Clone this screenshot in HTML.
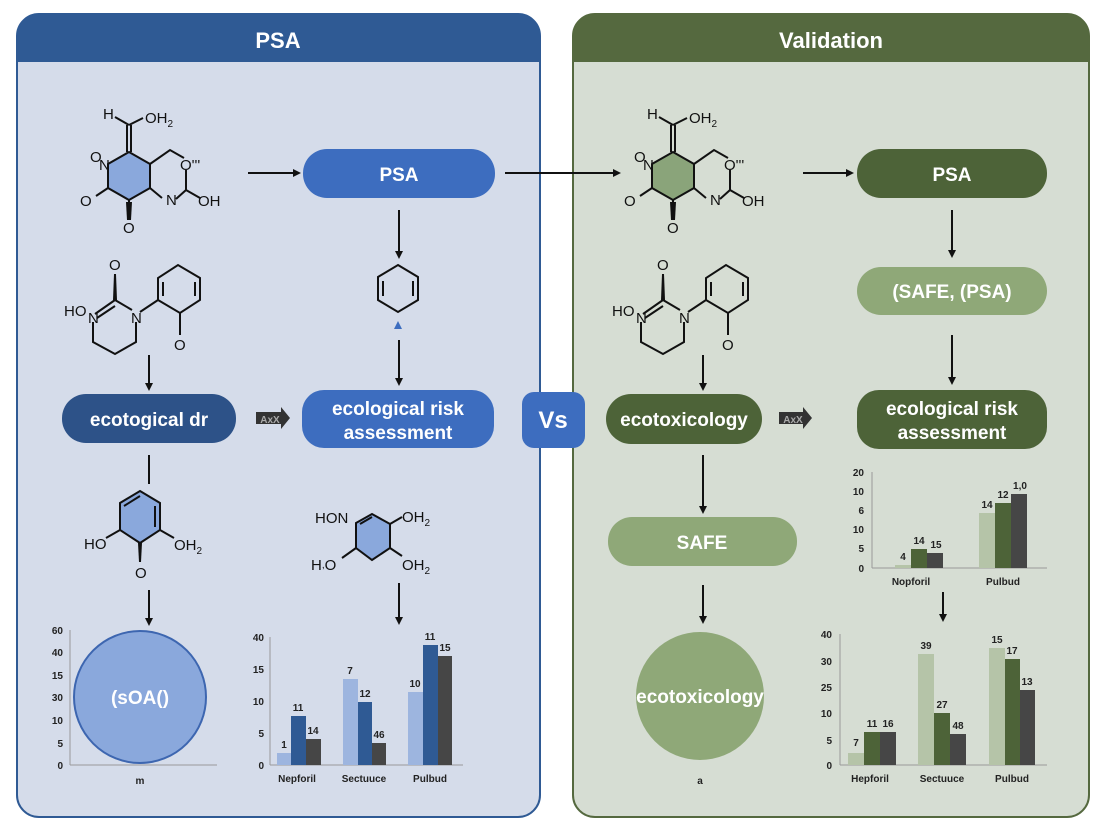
<!DOCTYPE html>
<html><head><meta charset="utf-8"><style>
html,body{margin:0;padding:0;background:#fff;}
svg{display:block;font-family:"Liberation Sans",sans-serif;}
.t{font-weight:bold;fill:#fff;text-anchor:middle;}
.m{font-size:15px;fill:#111;}
.ax{font-size:10px;font-weight:bold;fill:#222;text-anchor:end;}
.cl{font-size:10px;font-weight:bold;fill:#222;text-anchor:middle;}
.b{stroke:#111;stroke-width:2;fill:none;}
</style></head><body>
<svg width="1104" height="832" viewBox="0 0 1104 832">
<defs>
<marker id="ah" markerWidth="8" markerHeight="8" refX="6" refY="4" orient="auto" markerUnits="userSpaceOnUse"><path d="M0,0 L8,4 L0,8z" fill="#111"/></marker>
</defs>
<!-- Left panel -->
<rect x="17" y="14" width="523" height="803" rx="22" fill="#d5dcea" stroke="#2f5a94" stroke-width="2"/>
<path d="M17,62 V36 a22,22 0 0 1 22,-22 H518 a22,22 0 0 1 22,22 V62 z" fill="#2f5a94"/>
<text x="278" y="48" class="t" font-size="22">PSA</text>
<!-- Right panel -->
<rect x="573" y="14" width="516" height="803" rx="22" fill="#d6ddd3" stroke="#55693f" stroke-width="2"/>
<path d="M573,62 V36 a22,22 0 0 1 22,-22 H1067 a22,22 0 0 1 22,22 V62 z" fill="#55693f"/>
<text x="831" y="48" class="t" font-size="22">Validation</text>

<!-- Molecule 1 (left) -->
<g id="mol1">
<polygon points="129,152 150,164 150,188 129,200 108,188 108,164" fill="#8aa8dc" stroke="#111" stroke-width="2"/>
<path class="b" d="M127,152 V125 M131,152 V125 M129,125 L115,117 M129,125 L143,118 M150,164 L170,150 L184,158 M186,170 V190 L176,199 M150,188 L162,198 M186,190 L200,198 M129,200 V218"/>
<path d="M126,202 L132,202 L131,220 L127,220z" fill="#111"/>
<path class="b" d="M108,188 L96,196"/>
<text x="103" y="119" class="m">H</text><text x="145" y="123" class="m">OH<tspan font-size="10" dy="4">2</tspan></text>
<text x="90" y="162" class="m" font-size="14">O</text><text x="99" y="170" class="m">N</text>
<text x="180" y="170" class="m">O'''</text>
<text x="166" y="205" class="m">N</text><text x="198" y="206" class="m">OH</text>
<text x="80" y="206" class="m">O</text><text x="123" y="233" class="m">O</text>
</g>
<g transform="translate(544,0)">
<polygon points="129,152 150,164 150,188 129,200 108,188 108,164" fill="#8aa47a" stroke="#111" stroke-width="2"/>
<path class="b" d="M127,152 V125 M131,152 V125 M129,125 L115,117 M129,125 L143,118 M150,164 L170,150 L184,158 M186,170 V190 L176,199 M150,188 L162,198 M186,190 L200,198 M129,200 V218"/>
<path d="M126,202 L132,202 L131,220 L127,220z" fill="#111"/>
<path class="b" d="M108,188 L96,196"/>
<text x="103" y="119" class="m">H</text><text x="145" y="123" class="m">OH<tspan font-size="10" dy="4">2</tspan></text>
<text x="90" y="162" class="m" font-size="14">O</text><text x="99" y="170" class="m">N</text>
<text x="180" y="170" class="m">O'''</text>
<text x="166" y="205" class="m">N</text><text x="198" y="206" class="m">OH</text>
<text x="80" y="206" class="m">O</text><text x="123" y="233" class="m">O</text>
</g>

<!-- Molecule 2 -->
<g id="mol2">
<path class="b" d="M95,314 L115,300 L132,310 M97,318 L115,306 M93,322 V342 L115,354 L136,342 V322 M140,312 L158,300 M158,300 V278 L178,265 L200,278 V300 L180,313 L158,300 M163,296 V282 M195,282 V296 M180,313 V335 M115,300"/>
<path d="M113,300 L117,300 L116,274 L114,274z" fill="#111"/>
<text x="109" y="270" class="m">O</text>
<text x="64" y="316" class="m">HO</text><text x="88" y="323" class="m">N</text>
<text x="131" y="323" class="m">N</text><text x="174" y="350" class="m">O</text>
</g>
<g transform="translate(548,0)">
<path class="b" d="M95,314 L115,300 L132,310 M97,318 L115,306 M93,322 V342 L115,354 L136,342 V322 M140,312 L158,300 M158,300 V278 L178,265 L200,278 V300 L180,313 L158,300 M163,296 V282 M195,282 V296 M180,313 V335"/>
<path d="M113,300 L117,300 L116,274 L114,274z" fill="#111"/>
<text x="109" y="270" class="m">O</text>
<text x="64" y="316" class="m">HO</text><text x="88" y="323" class="m">N</text>
<text x="131" y="323" class="m">N</text><text x="174" y="350" class="m">O</text>
</g>

<!-- Molecule 3 -->
<polygon points="140,491 160,503 160,530 140,543 120,530 120,503" fill="#8aa8dc" stroke="#111" stroke-width="2"/>
<path class="b" d="M124,506 L140,496 M155,506 V527 M120,530 L106,538 M160,530 L174,538 M149,455 V484"/>
<path d="M138,543 L142,543 L141,562 L139,562z" fill="#111"/>
<text x="84" y="549" class="m">HO</text><text x="174" y="550" class="m">OH<tspan font-size="10" dy="4">2</tspan></text>
<text x="135" y="578" class="m">O</text>

<!-- Molecule 4 -->
<polygon points="356,523 372,514 390,524 390,548 372,560 356,548" fill="#8aa8dc" stroke="#111" stroke-width="2"/>
<path class="b" d="M360,524 L372,517 M390,524 L402,517 M390,548 L402,556 M356,548 L342,558"/>
<text x="315" y="523" class="m">HON</text><text x="402" y="522" class="m">OH<tspan font-size="10" dy="4">2</tspan></text>
<text x="311" y="570" class="m">H<tspan font-size="10" dy="-2">,</tspan><tspan dy="2">O</tspan></text><text x="402" y="570" class="m">OH<tspan font-size="10" dy="4">2</tspan></text>

<!-- Hexagon middle -->
<polygon points="398,265 418,277 418,300 398,312 378,300 378,277" fill="none" stroke="#111" stroke-width="2"/>
<path class="b" d="M383,281 V296 M413,281 V296"/>
<polygon points="398,321 402,329 394,329" fill="#3d6dbf"/>

<!-- Pills left -->
<rect x="303" y="149" width="192" height="49" rx="24" fill="#3d6dbf"/>
<text x="399" y="181" class="t" font-size="19">PSA</text>
<rect x="302" y="390" width="192" height="58" rx="22" fill="#3d6dbf"/>
<text x="398" y="415" class="t" font-size="19">ecological risk</text>
<text x="398" y="439" class="t" font-size="19">assessment</text>
<rect x="62" y="394" width="174" height="49" rx="24" fill="#2d5288"/>
<text x="149" y="426" class="t" font-size="19">ecotogical dr</text>
<rect x="522" y="392" width="63" height="56" rx="12" fill="#3d6dbf"/>
<text x="553" y="428" class="t" font-size="24">Vs</text>

<!-- Pills right -->
<rect x="857" y="149" width="190" height="49" rx="24" fill="#4d6338"/>
<text x="952" y="181" class="t" font-size="19">PSA</text>
<rect x="857" y="267" width="190" height="48" rx="24" fill="#8fa878"/>
<text x="952" y="298" class="t" font-size="19">(SAFE, (PSA)</text>
<rect x="857" y="390" width="190" height="59" rx="22" fill="#4d6338"/>
<text x="952" y="415" class="t" font-size="19">ecological risk</text>
<text x="952" y="439" class="t" font-size="19">assessment</text>
<rect x="606" y="394" width="156" height="50" rx="25" fill="#4d6338"/>
<text x="684" y="426" class="t" font-size="19">ecotoxicology</text>
<rect x="608" y="517" width="189" height="49" rx="24" fill="#8fa878"/>
<text x="702" y="549" class="t" font-size="19">SAFE</text>

<!-- AxX arrows -->
<path d="M256,412 H281 V407 L290,418 L281,429 V424 H256z" fill="#333"/>
<text x="270" y="423" font-size="10" fill="#aaa" text-anchor="middle" font-weight="bold">AxX</text>
<path d="M779,412 H803 V407 L812,418 L803,429 V424 H779z" fill="#333"/>
<text x="793" y="423" font-size="10" fill="#aaa" text-anchor="middle" font-weight="bold">AxX</text>

<!-- Arrows -->
<g stroke="#111" stroke-width="2" marker-end="url(#ah)">
<line x1="248" y1="173" x2="299" y2="173"/>
<line x1="505" y1="173" x2="619" y2="173"/>
<line x1="399" y1="210" x2="399" y2="257"/>
<line x1="399" y1="340" x2="399" y2="384"/>
<line x1="149" y1="355" x2="149" y2="389"/>
<line x1="149" y1="590" x2="149" y2="624"/>
<line x1="399" y1="583" x2="399" y2="623"/>
<line x1="803" y1="173" x2="852" y2="173"/>
<line x1="952" y1="210" x2="952" y2="256"/>
<line x1="952" y1="335" x2="952" y2="383"/>
<line x1="703" y1="355" x2="703" y2="389"/>
<line x1="703" y1="455" x2="703" y2="512"/>
<line x1="703" y1="585" x2="703" y2="622"/>
<line x1="943" y1="592" x2="943" y2="620"/>
</g>

<!-- Left circle chart -->
<g>
<line x1="70" y1="630" x2="70" y2="765" stroke="#999"/>
<line x1="70" y1="765" x2="217" y2="765" stroke="#999"/>
<text x="63" y="634" class="ax">60</text><text x="63" y="656" class="ax">40</text>
<text x="63" y="679" class="ax">15</text><text x="63" y="701" class="ax">30</text>
<text x="63" y="724" class="ax">10</text><text x="63" y="747" class="ax">5</text>
<text x="63" y="769" class="ax">0</text>
<circle cx="140" cy="697" r="66" fill="#8aa8dc" stroke="#3d66b0" stroke-width="2"/>
<text x="140" y="704" class="t" font-size="19" font-weight="normal">(sOA()</text>
<text x="140" y="784" class="cl">m</text>
</g>

<!-- Left bar chart -->
<g>
<line x1="270" y1="637" x2="270" y2="765" stroke="#999"/>
<line x1="270" y1="765" x2="463" y2="765" stroke="#999"/>
<text x="264" y="641" class="ax">40</text><text x="264" y="673" class="ax">15</text>
<text x="264" y="705" class="ax">10</text><text x="264" y="737" class="ax">5</text>
<text x="264" y="769" class="ax">0</text>
<rect x="277" y="753" width="14" height="12" fill="#9db5df"/>
<rect x="291" y="716" width="15" height="49" fill="#2f5a94"/>
<rect x="306" y="739" width="15" height="26" fill="#464646"/>
<rect x="343" y="679" width="15" height="86" fill="#9db5df"/>
<rect x="358" y="702" width="14" height="63" fill="#2f5a94"/>
<rect x="372" y="743" width="14" height="22" fill="#464646"/>
<rect x="408" y="692" width="15" height="73" fill="#9db5df"/>
<rect x="423" y="645" width="15" height="120" fill="#2f5a94"/>
<rect x="438" y="656" width="14" height="109" fill="#464646"/>
<text x="284" y="748" class="cl">1</text><text x="298" y="711" class="cl">11</text><text x="313" y="734" class="cl">14</text>
<text x="350" y="674" class="cl">7</text><text x="365" y="697" class="cl">12</text><text x="379" y="738" class="cl">46</text>
<text x="415" y="687" class="cl">10</text><text x="430" y="640" class="cl">11</text><text x="445" y="651" class="cl">15</text>
<text x="297" y="782" class="cl">Nepforil</text><text x="364" y="782" class="cl">Sectuuce</text><text x="430" y="782" class="cl">Pulbud</text>
</g>

<!-- Right circle -->
<circle cx="700" cy="696" r="64" fill="#8fa878"/>
<text x="700" y="703" class="t" font-size="19" font-weight="normal">ecotoxicology</text>
<text x="700" y="784" class="cl" font-weight="normal">a</text>

<!-- Right top chart -->
<g>
<line x1="872" y1="472" x2="872" y2="568" stroke="#999"/>
<line x1="872" y1="568" x2="1047" y2="568" stroke="#999"/>
<text x="864" y="476" class="ax">20</text><text x="864" y="495" class="ax">10</text>
<text x="864" y="514" class="ax">6</text><text x="864" y="533" class="ax">10</text>
<text x="864" y="552" class="ax">5</text><text x="864" y="572" class="ax">0</text>
<rect x="895" y="565" width="16" height="3" fill="#b5c4a8"/>
<rect x="911" y="549" width="16" height="19" fill="#4d6338"/>
<rect x="927" y="553" width="16" height="15" fill="#464646"/>
<rect x="979" y="513" width="16" height="55" fill="#b5c4a8"/>
<rect x="995" y="503" width="16" height="65" fill="#4d6338"/>
<rect x="1011" y="494" width="16" height="74" fill="#464646"/>
<text x="903" y="560" class="cl">4</text><text x="919" y="544" class="cl">14</text><text x="936" y="548" class="cl">15</text>
<text x="987" y="508" class="cl">14</text><text x="1003" y="498" class="cl">12</text><text x="1020" y="489" class="cl">1,0</text>
<text x="911" y="585" class="cl">Nopforil</text><text x="1003" y="585" class="cl">Pulbud</text>
</g>

<!-- Right bottom chart -->
<g>
<line x1="840" y1="634" x2="840" y2="765" stroke="#999"/>
<line x1="840" y1="765" x2="1047" y2="765" stroke="#999"/>
<text x="832" y="638" class="ax">40</text><text x="832" y="665" class="ax">30</text>
<text x="832" y="691" class="ax">25</text><text x="832" y="717" class="ax">10</text>
<text x="832" y="744" class="ax">5</text><text x="832" y="769" class="ax">0</text>
<rect x="848" y="753" width="16" height="12" fill="#b5c4a8"/>
<rect x="864" y="732" width="16" height="33" fill="#4d6338"/>
<rect x="880" y="732" width="16" height="33" fill="#464646"/>
<rect x="918" y="654" width="16" height="111" fill="#b5c4a8"/>
<rect x="934" y="713" width="16" height="52" fill="#4d6338"/>
<rect x="950" y="734" width="16" height="31" fill="#464646"/>
<rect x="989" y="648" width="16" height="117" fill="#b5c4a8"/>
<rect x="1005" y="659" width="15" height="106" fill="#4d6338"/>
<rect x="1020" y="690" width="15" height="75" fill="#464646"/>
<text x="856" y="746" class="cl">7</text><text x="872" y="727" class="cl">11</text><text x="888" y="727" class="cl">16</text>
<text x="926" y="649" class="cl">39</text><text x="942" y="708" class="cl">27</text><text x="958" y="729" class="cl">48</text>
<text x="997" y="643" class="cl">15</text><text x="1012" y="654" class="cl">17</text><text x="1027" y="685" class="cl">13</text>
<text x="870" y="782" class="cl">Hepforil</text><text x="942" y="782" class="cl">Sectuuce</text><text x="1012" y="782" class="cl">Pulbud</text>
</g>
</svg>
</body></html>
